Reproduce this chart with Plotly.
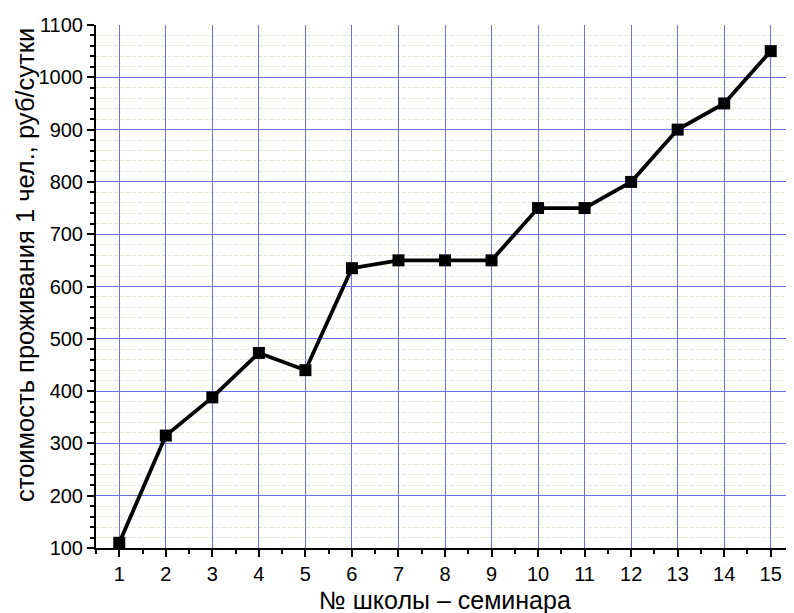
import plotly.graph_objects as go

schools = list(range(1, 16))
cost = [110, 315, 388, 473, 440, 635, 650, 650, 650, 750, 750, 800, 900, 950, 1050]
x_ticks = list(range(1, 16))

# page body has an 8px margin; figure is sized/offset to compensate
W, H = 786, 605
L, R, T, B = 88, 0, 17, 65
pw, ph = W - L - R, H - T - B

fig = go.Figure()
fig.add_trace(go.Scatter(
    x=schools, y=cost, mode="lines+markers",
    line=dict(color="black", width=3.8),
    marker=dict(symbol="square", size=12, color="black"),
    showlegend=False, cliponaxis=False,
))

fig.update_layout(
    width=W, height=H,
    margin=dict(l=L, r=R, t=T, b=B, autoexpand=False),
    paper_bgcolor="white", plot_bgcolor="white",
    font=dict(family="Liberation Sans, Arial, sans-serif", size=20, color="black"),
)
fig.update_xaxes(
    range=[0.5, 15.5], tickvals=x_ticks, automargin=False,
    showline=True, linecolor="black", linewidth=2,
    ticks="outside", ticklen=7, tickwidth=2, tickcolor="black",
    showgrid=True, gridcolor="#6f6fe8", gridwidth=1,
    minor=dict(dtick=0.5, tick0=0.5, ticks="outside", ticklen=4, tickwidth=2, tickcolor="black", showgrid=False),
    zeroline=False,
    tickfont=dict(size=20),
)
fig.update_yaxes(
    range=[100, 1100], dtick=100, tick0=100, automargin=False,
    showline=True, linecolor="black", linewidth=2,
    ticks="outside", ticklen=7, tickwidth=2, tickcolor="black",
    showgrid=True, gridcolor="#6f6fe8", gridwidth=1,
    minor=dict(dtick=20, ticks="outside", ticklen=4, tickwidth=1.5, tickcolor="black",
               showgrid=True, gridcolor="#dcefd2", griddash="4px,2px", gridwidth=1),
    zeroline=False,
    tickfont=dict(size=20),
)
fig.add_annotation(
    text="стоимость проживания 1 чел., руб/сутки", textangle=-90,
    xref="paper", yref="paper", x=(17 - L) / pw, y=(540 - 257) / ph,
    xanchor="center", yanchor="middle", showarrow=False, font=dict(size=25.5),
)
fig.add_annotation(
    text="№ школы – семинара",
    xref="paper", yref="paper", x=0.5, y=(540 - 592) / ph,
    xanchor="center", yanchor="middle", showarrow=False, font=dict(size=25),
)

fig.write_html("out.html")
